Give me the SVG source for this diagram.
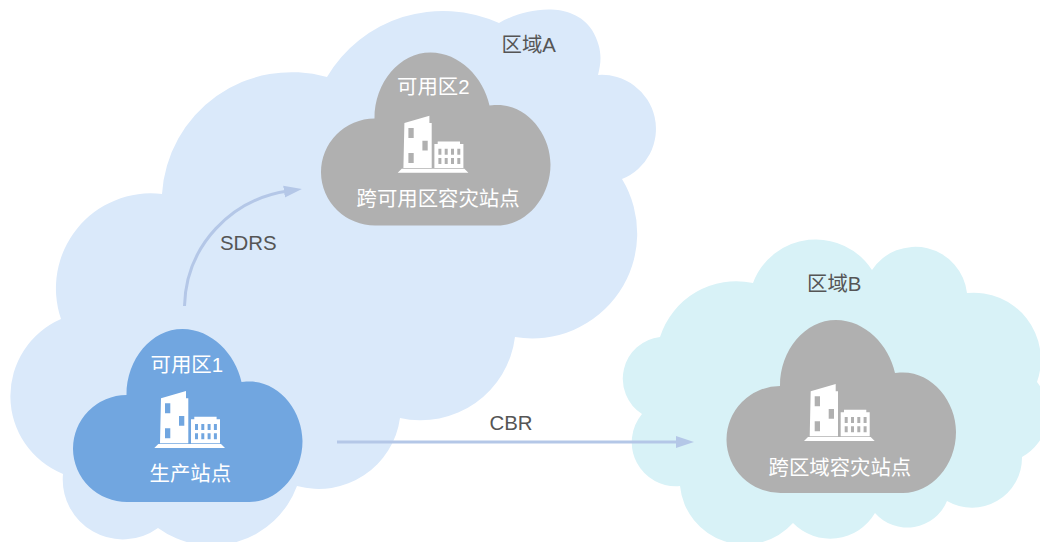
<svg xmlns="http://www.w3.org/2000/svg" width="1040" height="542" viewBox="0 0 1040 542">
<style>
text{font-family:"Liberation Sans","Noto Sans CJK SC",sans-serif;font-size:20.400px}
.w{fill:#fff}
.d{fill:#555}
.blue{fill:#71a6e0}
.gray{fill:#b0b0b0}
.conn{fill:none;stroke:#b4c7e7;stroke-width:3}
</style>
<defs>
<path id="cloud" d="M54 173A54 53.500 0 0 1 53 66C53 30 78 0 109 0C138 0 162 25 168 53C172 52.500 174 52.500 176 52.500C206 52.500 229 82 229 112C229 146 204 173 176 173Z"/>
<path id="icon" fill="#fff" fill-rule="evenodd" d="M6.700 7.300L31.700 0V7.300H34V52.300H5.700ZM10.700 12.300V22.300H16V12.300ZM24.700 25V34.700H30V25ZM10.700 37.300V47.300H16V37.300ZM4 53H66.700L70.700 57H0ZM36.700 28.300H40V25.700H62.300V28.300H65.700V52.300H36.700ZM40.700 33V39H43.700V33ZM47 33V39H50V33ZM53.300 33V39H56.300V33ZM59.600 33V39H62.600V33ZM40.700 42.300V48.300H43.700V42.300ZM47 42.300V48.300H50V42.300ZM53.300 42.300V48.300H56.300V42.300ZM59.600 42.300V48.300H62.600V42.300Z"/>
<marker id="arrow" markerUnits="userSpaceOnUse" markerWidth="20" markerHeight="14" refX="4" refY="7" orient="auto"><path d="M0 1L18 7L0 13Z" fill="#b4c7e7"/></marker>
</defs>
<g id="region-a">
<path fill="#dae9fa" d="M63 474A84 84 0 0 1 61 319A95 95 0 0 1 162 194A130 130 0 0 1 327 77A135 135 0 0 1 499 23C525 8 572 0 592 30C602 47 602 60 598 75A54 54 0 0 1 622 179A105 105 0 0 1 515 337A95 95 0 0 1 400 418A82 82 0 0 1 297 486A91 91 0 0 1 158 528A60 60 0 0 1 63 474Z"/>
<text class="d" x="501.500" y="52">区域A</text>
</g>
<g id="region-b">
<path fill="#d8f2f7" d="M660 337A80 80 0 0 1 753 283A67 67 0 0 1 872 270A52 52 0 0 1 967 293A67 67 0 0 1 1037 382A50 50 0 0 1 1022 457A50 50 0 0 1 947 501A43 43 0 0 1 875 513A52 52 0 0 1 793 523A65 65 0 0 1 680 486A44 44 0 0 1 642 414A42 42 0 0 1 660 337Z"/>
<text class="d" x="807" y="291">区域B</text>
</g>
<g id="az1">
<use href="#cloud" class="blue" x="73.500" y="329"/>
<use href="#icon" x="154.300" y="391"/>
<text class="w" x="150.500" y="371.500">可用区1</text>
<text class="w" x="149.500" y="481">生产站点</text>
</g>
<g id="az2">
<use href="#cloud" class="gray" x="321.500" y="52.500"/>
<use href="#icon" x="397.700" y="115.700"/>
<text class="w" x="397" y="94">可用区2</text>
<text class="w" x="356.500" y="206">跨可用区容灾站点</text>
</g>
<g id="dr-site">
<use href="#cloud" class="gray" x="727" y="320"/>
<use href="#icon" x="804" y="384"/>
<text class="w" x="768.500" y="475">跨区域容灾站点</text>
</g>
<g id="connectors">
<path class="conn" marker-end="url(#arrow)" d="M184.500 306C186 245 232 199 288 191"/>
<path class="conn" marker-end="url(#arrow)" d="M337 442H680"/>
</g>
<text class="d" x="220" y="250">SDRS</text>
<text class="d" x="489.500" y="430">CBR</text>
</svg>
